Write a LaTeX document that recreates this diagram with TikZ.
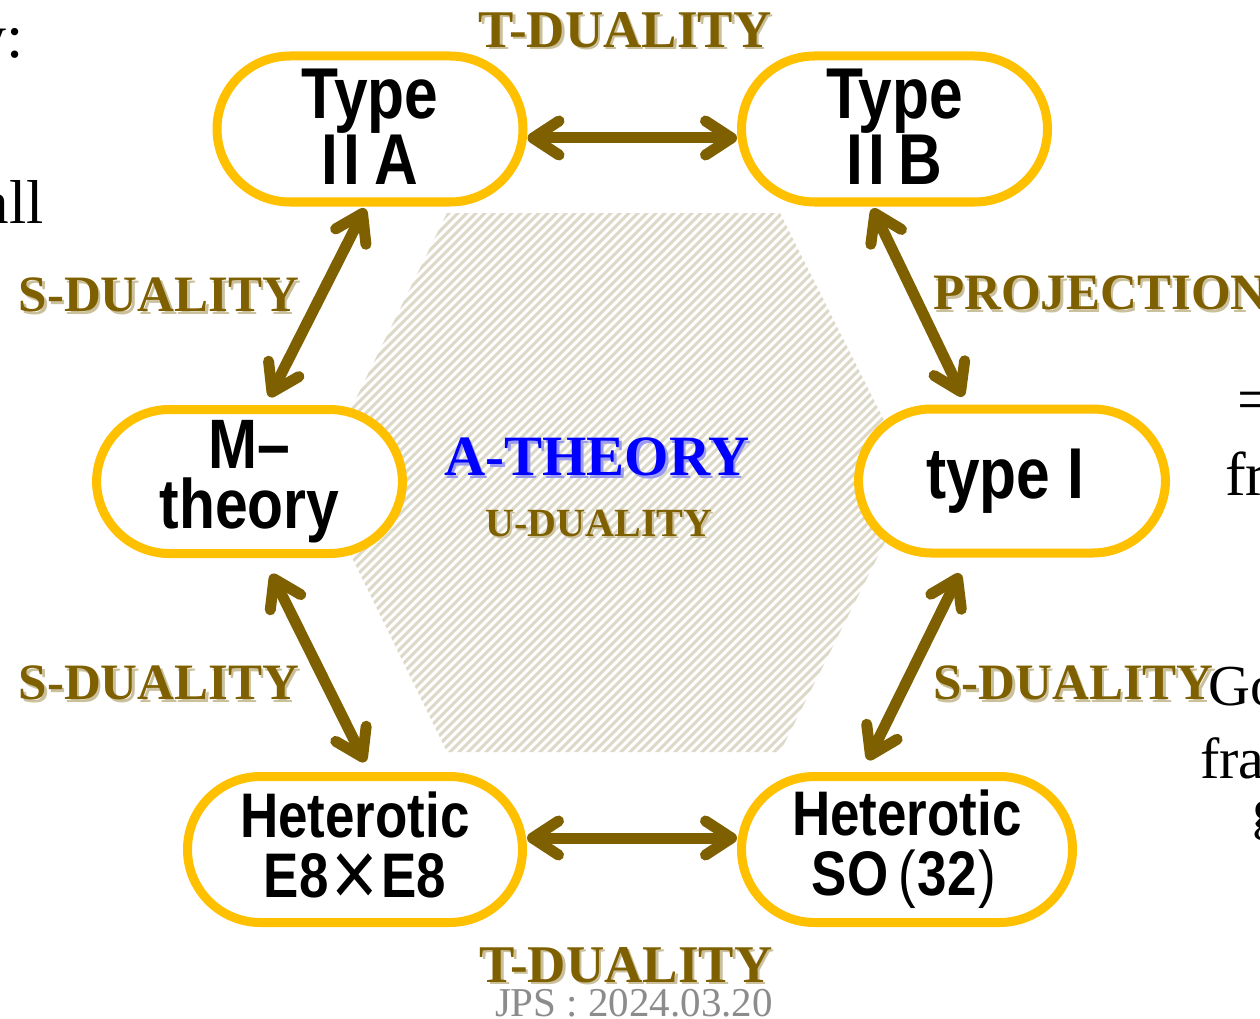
\documentclass[tikz,border=0pt]{standalone}
\usepackage{fontspec}
\setmainfont{Liberation Serif}
\newfontfamily\nodefont{Liberation Sans}[FakeStretch=0.84]
\newfontfamily\lblfont{Liberation Serif}
\usetikzlibrary{arrows.meta}
\definecolor{nodeborder}{HTML}{FFC000}
\definecolor{arrowc}{HTML}{7F6000}
\definecolor{hatchc}{HTML}{DDD9C8}
\definecolor{lblc}{HTML}{7F6000}
\definecolor{lblshadow}{HTML}{CBC09C}
\definecolor{atheoryc}{HTML}{0000FF}
\definecolor{ashadow}{HTML}{9A9AF0}
\definecolor{jpsc}{HTML}{8C8C8C}
\tikzset{
  theorybox/.style={draw=nodeborder, line width=9pt, fill=white,
    rounded corners=73pt, minimum height=146pt, inner sep=0pt,
    align=center, font=\nodefont\bfseries, text=black},
  dualarrow/.style={draw=arrowc, line width=11pt, line cap=round,
    {Straight Barb[length=26pt,width=34pt,round]}-{Straight Barb[length=26pt,width=34pt,round]}},
  lblmain/.style={inner sep=0pt, text=lblc, font=\lblfont\bfseries\fontsize{51}{51}\selectfont},
  lblshad/.style={inner sep=0pt, text=lblshadow, font=\lblfont\bfseries\fontsize{51}{51}\selectfont},
  tdfont/.style={font=\lblfont\bfseries\fontsize{53}{53}\selectfont},
  hatchline/.style={draw=hatchc, line width=3pt},
  frag/.style={inner sep=0pt, text=black, font=\fontsize{62}{62}\selectfont},
}
\begin{document}
\begin{tikzpicture}[x=1pt, y=-1pt]
\useasboundingbox (0,0) rectangle (1260,1019);
\clip (0,0) rectangle (1260,1019);
\fill[white] (0,0) rectangle (1260,1019);

% hatched hexagon
\begin{scope}
  \clip (447,213) -- (780,213) -- (915,482) -- (780,752) -- (447,752) -- (315,482) -- cycle;
  \foreach \c in {-270,-261,...,940} {
    \draw[hatchline] (\c,770) -- ++(580,-580);
  }
\end{scope}

% nodes
\node[theorybox, minimum width=306pt, font=\nodefont\bfseries\fontsize{72}{63}\selectfont] (IIA) at (370,129) {\raisebox{5pt}{Type}\\\raisebox{5pt}{I\kern5pt I\kern14pt A}};
\node[theorybox, minimum width=306pt, font=\nodefont\bfseries\fontsize{72}{63}\selectfont] (IIB) at (894.5,129) {\raisebox{5pt}{Type}\\\raisebox{5pt}{I\kern5pt I\kern14pt B}};
\node[theorybox, minimum width=306pt, minimum height=144pt, font=\nodefont\bfseries\fontsize{70}{60}\selectfont] (M) at (249.5,481.5) {M–\\theory};
\node[theorybox, minimum width=307pt, minimum height=144pt, font=\nodefont\bfseries\fontsize{72}{63}\selectfont] (tI) at (1012,481) {type I\kern14pt};
\node[theorybox, minimum width=335pt, font=\nodefont\bfseries\fontsize{63}{60}\selectfont] (E8) at (355,849.5) {Heterotic\\E8\kern3pt\raisebox{-9pt}{\mdseries\fontsize{95}{60}\selectfont ×}\kern3pt E8};
\node[theorybox, minimum width=331pt, font=\nodefont\bfseries\fontsize{63}{60}\selectfont] (SO) at (907,849.5) {Heterotic\\SO\kern10pt{\mdseries(}\kern2pt 32\kern2pt{\mdseries)}\kern6pt};

% connectors
\draw[dualarrow] ([yshift=-9pt]IIA.east) -- ([yshift=-9pt]IIB.west);
\draw[dualarrow] ([yshift=11.5pt]E8.east) -- ([yshift=11.5pt]SO.west);
\draw[dualarrow] ([xshift=-5pt,yshift=-2pt]IIA.south) -- ([xshift=20pt,yshift=8pt]M.north);
\draw[dualarrow] ([xshift=22pt,yshift=-16pt]M.south) -- ([xshift=10pt,yshift=10pt]E8.north);
\draw[dualarrow] ([xshift=-22pt,yshift=-2pt]IIB.south) -- ([xshift=-49pt,yshift=8pt]tI.north);
\draw[dualarrow] ([xshift=-52pt,yshift=-16pt]tI.south) -- ([xshift=-39pt,yshift=12pt]SO.north);

% labels (shadow + main)
\node[lblshad, tdfont] (tdtops) at (627.5,32.5) {T-DUALITY};
\node[lblmain, tdfont] (tdtop) at (625,30) {T-DUALITY};
\node[lblshad, tdfont] (tdbots) at (628.5,967.5) {T-DUALITY};
\node[lblmain, tdfont] (tdbot) at (626,965) {T-DUALITY};
\node[lblshad] (sduls) at (161.5,297.5) {S-DUALITY};
\node[lblmain] (sdul) at (159,295) {S-DUALITY};
\node[lblshad, anchor=west] (projs) at (935.5,295.5) {PROJECTION};
\node[lblmain, anchor=west] (proj) at (933,293) {PROJECTION};
\node[lblshad] (sdlls) at (161.5,685.5) {S-DUALITY};
\node[lblmain] (sdll) at (159,683) {S-DUALITY};
\node[lblshad, anchor=west] (sdlrs) at (935.5,685.5) {S-DUALITY};
\node[lblmain, anchor=west] (sdlr) at (933,683) {S-DUALITY};

\node[inner sep=0pt, text=ashadow, font=\lblfont\bfseries\fontsize{57}{57}\selectfont] (aths) at (599.5,459.5) {A-THEORY};
\node[inner sep=0pt, text=atheoryc, font=\lblfont\bfseries\fontsize{57}{57}\selectfont] (ath) at (597,457) {A-THEORY};
\node[inner sep=0pt, text=lblshadow, font=\lblfont\bfseries\fontsize{40}{40}\selectfont] (udus) at (601,525) {U-DUALITY};
\node[inner sep=0pt, text=lblc, font=\lblfont\bfseries\fontsize{40}{40}\selectfont] (udu) at (599,523) {U-DUALITY};

% footer
\node[inner sep=0pt, anchor=base, text=jpsc, font=\fontsize{41}{41}\selectfont] (jps) at (634,1016) {JPS : 2024.03.20};

% slide text fragments
\node[frag, anchor=base east] (f1) at (24,58) {y:};
\node[frag, anchor=base east] (f2) at (44,223) {all};
\node[frag, anchor=base west] (f3) at (1237,420) {=};
\node[frag, anchor=base west] (f4) at (1225,495) {fr};
\node[frag, anchor=base west, font=\fontsize{58}{58}\selectfont] (f5) at (1208,705) {Go};
\node[frag, anchor=base west, font=\fontsize{58}{58}\selectfont] (f6) at (1200,778) {fra};
\node[frag, anchor=base west, font=\fontsize{58}{58}\selectfont] (f7) at (1252,828) {g};
\end{tikzpicture}
\end{document}
